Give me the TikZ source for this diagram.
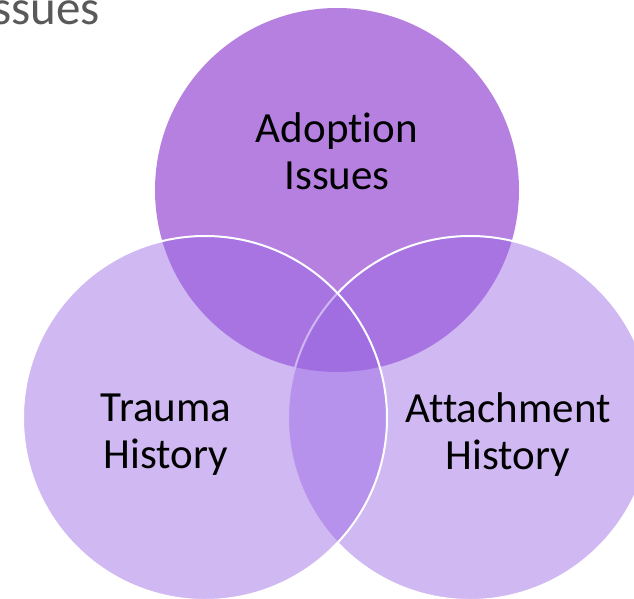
\documentclass[tikz,border=0pt]{standalone}
\usepackage{fontspec}
\setmainfont{Carlito}[Ligatures=NoCommon]
\usepackage{tikz}
\definecolor{topColor}{RGB}{181,128,224}
\definecolor{lowerColor}{RGB}{155,104,228}
\definecolor{titleColor}{RGB}{89,89,89}
\newcommand{\vennFont}{\fontsize{43}{47}\selectfont}
\newcommand{\titleFont}{\fontsize{49}{56}\selectfont}
\tikzstyle{venn} = [y = -1pt, x = 1pt]
\tikzstyle{topCircle} = [circle, fill=topColor, minimum size=364pt, inner sep=0pt]
\tikzstyle{lowerCircle} = [circle, draw=white, line width=2pt, fill=lowerColor, fill opacity=0.47, minimum size=364pt, inner sep=0pt]
\tikzstyle{circleText} = [align=center, font=\vennFont, text=black, inner sep=0pt]
\tikzstyle{titleText} = [font=\titleFont, text=titleColor, inner sep=0pt, anchor=base east]
\begin{document}
\begin{tikzpicture}[venn]
        \useasboundingbox (0,0) rectangle (634,599);
        \clip (0,0) rectangle (634,599);
        \node [titleText] (title) at (100,25) {Issues};
        % circles, back to front
        \node [topCircle] (adoption) at (337,190) {};
        \node [lowerCircle] (attachment) at (470,418) {};
        \node [lowerCircle] (trauma) at (205,418) {};
        % labels
        \node [circleText] (adoptionText) at (337,151) {Adoption\\Issues};
        \node [circleText] (traumaText) at (166,435) {Trauma\\History};
        \node [circleText] (attachmentText) at (508,435) {Attachment\\History};
      \end{tikzpicture}
\end{document}
